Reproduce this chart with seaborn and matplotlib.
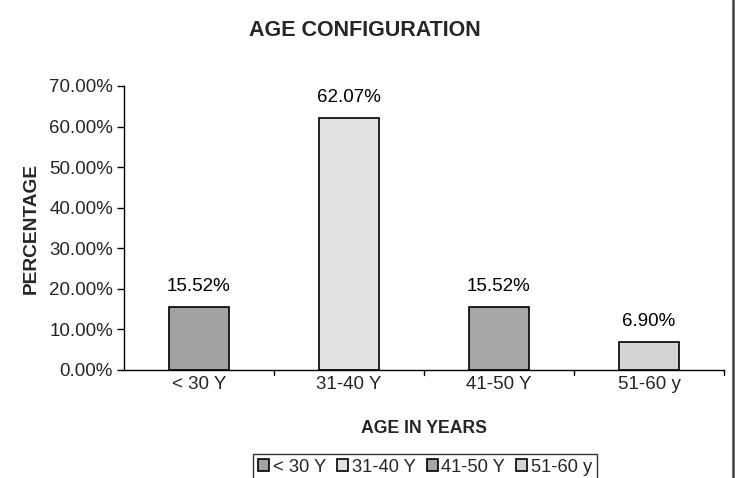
import matplotlib
matplotlib.use("Agg")
import matplotlib.pyplot as plt
import seaborn as sns
from matplotlib.lines import Line2D
from matplotlib.ticker import FuncFormatter, MultipleLocator

categories = ["< 30 Y", "31-40 Y", "41-50 Y", "51-60 y"]
values = [15.52, 62.07, 15.52, 6.90]
colors = ["#a2a2a2", "#e2e2e2", "#a6a6a6", "#d4d4d4"]

sns.set_theme(style="white")
plt.rcParams["font.family"] = ["Liberation Sans", "DejaVu Sans"]

fig = plt.figure(figsize=(7.36, 4.78), dpi=100)
ax = fig.add_axes([124/736, 1-370/478, 600/736, (370-86)/478])

sns.barplot(x=categories, y=values, hue=categories, palette=colors,
            width=0.4, dodge=False, legend=True, ax=ax,
            edgecolor="black", linewidth=1.2, saturation=1)

for p, v in zip(ax.patches, values):
    ax.text(p.get_x() + p.get_width()/2, v + 3, f"{v:.2f}%",
            ha="center", va="bottom", fontsize=13.5, color="black")

ax.set_ylim(0, 70)
ax.yaxis.set_major_locator(MultipleLocator(10))
ax.yaxis.set_major_formatter(FuncFormatter(lambda y, _: f"{y:.2f}%"))
ax.set_xlim(-0.5, 3.5)
ax.tick_params(axis="y", labelsize=13.5, left=True, length=5, width=1, color="black", pad=3)
ax.tick_params(axis="x", labelsize=13.5, bottom=False, length=0, pad=4)
for b in [0.5, 1.5, 2.5, 3.5]:
    ax.plot([b, b], [0, -1.2], color="black", lw=1, clip_on=False)
sns.despine(ax=ax)
for s in ["left", "bottom"]:
    ax.spines[s].set_color("black")
    ax.spines[s].set_linewidth(1)

ax.set_xlabel("AGE IN YEARS", fontsize=12.7, fontweight="bold")
ax.set_ylabel("PERCENTAGE", fontsize=13.8, fontweight="bold")
ax.yaxis.set_label_coords((40-124)/600, 0.5)
ax.xaxis.set_label_coords(0.5, (370-420)/284)
fig.text(365/736, 1-30/478, "AGE CONFIGURATION", ha="center", va="center",
         fontsize=15.5, fontweight="bold")

handles, labels = ax.get_legend_handles_labels()
ax.legend_.remove()
leg = fig.legend(handles, labels, loc="center", bbox_to_anchor=(425/736, 1-467/478),
                 ncol=4, frameon=True, fontsize=13.2, handlelength=0.6, handleheight=0.6,
                 handletextpad=0.2, columnspacing=0.6, borderpad=0.25, fancybox=False,
                 edgecolor="black")
leg.get_frame().set_linewidth(1)

fig.add_artist(Line2D([733/736, 733/736], [0, 1], color="#404040", lw=1.8))

fig.savefig("out.png", dpi=100)
